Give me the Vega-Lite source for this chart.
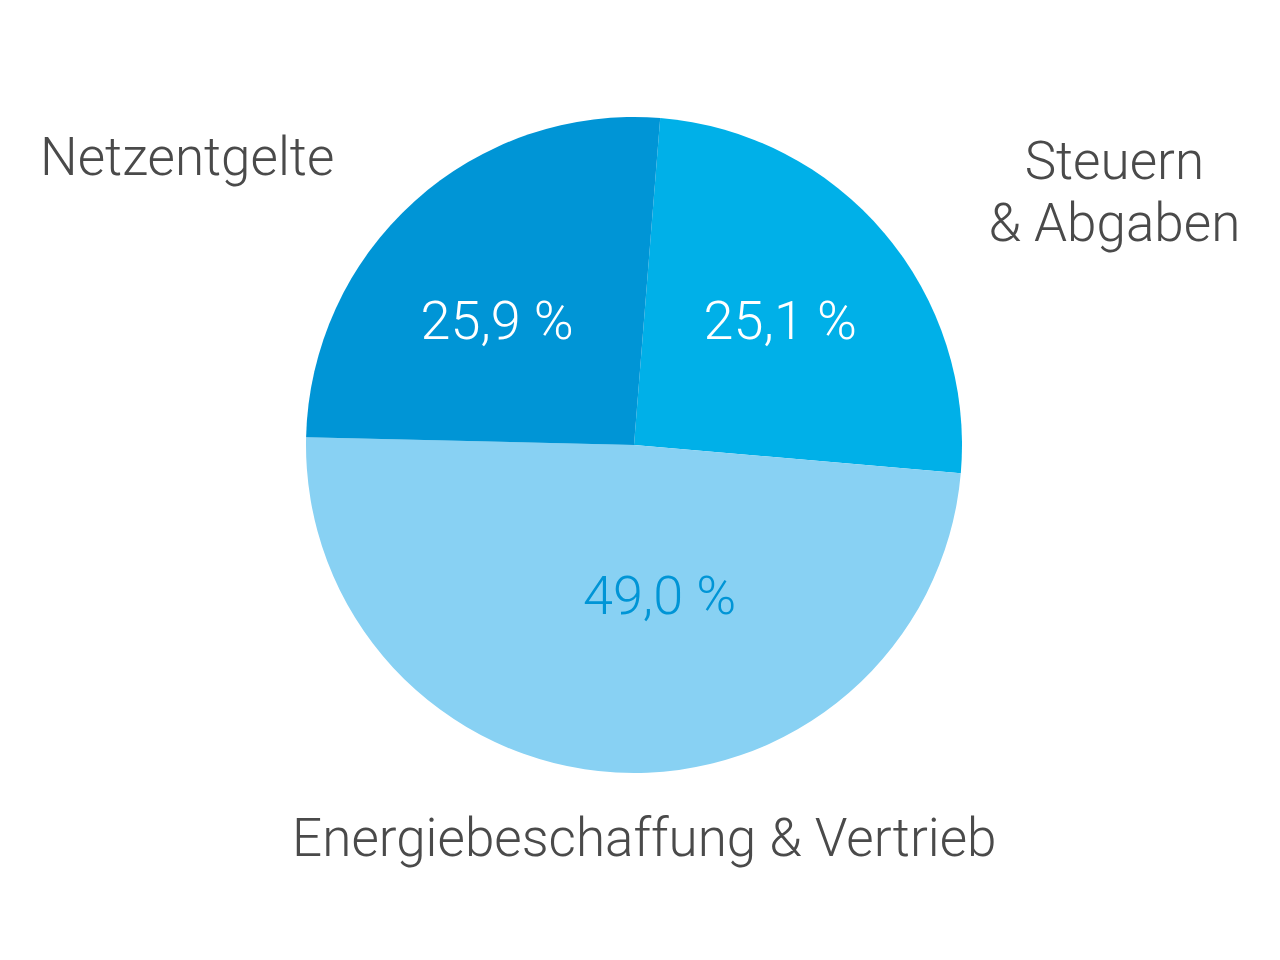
{
  "$schema": "https://vega.github.io/schema/vega-lite/v6.json",
  "width": 1268,
  "height": 890,
  "autosize": "none",
  "padding": 0,
  "background": "white",
  "config": {"view": {"stroke": null}},
  "data": {
    "values": [
      {"cat": "Steuern & Abgaben", "name": "Steuern\n& Abgaben", "value": 25.1, "pct": "25,1 %", "order": 1},
      {"cat": "Energiebeschaffung & Vertrieb", "name": "Energiebeschaffung & Vertrieb", "value": 49.0, "pct": "49,0 %", "order": 2},
      {"cat": "Netzentgelte", "name": "Netzentgelte", "value": 25.9, "pct": "25,9 %", "order": 3}
    ]
  },
  "encoding": {
    "theta": {"field": "value", "type": "quantitative", "stack": true, "scale": {"range": [0.08, 6.3632]}},
    "order": {"field": "order", "type": "quantitative"}
  },
  "layer": [
    {
      "mark": {"type": "arc", "outerRadius": 328},
      "encoding": {
        "color": {
          "field": "cat", "type": "nominal", "legend": null,
          "scale": {
            "domain": ["Steuern & Abgaben", "Energiebeschaffung & Vertrieb", "Netzentgelte"],
            "range": ["#00B0E8", "#88D1F3", "#0095D6"]
          }
        }
      }
    },
    {
      "mark": {"type": "text", "radius": 185, "dx": -13, "dy": 15, "font": "Roboto", "fontWeight": 300, "fontSize": 54, "fill": "#ffffff", "align": "center", "baseline": "middle"},
      "encoding": {"text": {"condition": {"test": "datum.cat === 'Netzentgelte'", "field": "pct"}, "value": ""}}
    },
    {
      "mark": {"type": "text", "radius": 189, "dx": 2, "dy": 0, "font": "Roboto", "fontWeight": 300, "fontSize": 54, "fill": "#ffffff", "align": "center", "baseline": "middle"},
      "encoding": {"text": {"condition": {"test": "datum.cat === 'Steuern & Abgaben'", "field": "pct"}, "value": ""}}
    },
    {
      "mark": {"type": "text", "radius": 153, "dx": 34, "dy": 0, "font": "Roboto", "fontWeight": 300, "fontSize": 54, "fill": "#0095D6", "align": "center", "baseline": "middle"},
      "encoding": {"text": {"condition": {"test": "datum.cat === 'Energiebeschaffung & Vertrieb'", "field": "pct"}, "value": ""}}
    },
    {
      "mark": {"type": "text", "radius": 400, "dx": -179, "dy": 11, "font": "Roboto", "fontWeight": 300, "fontSize": 53, "fill": "#4a4a4a", "align": "center", "baseline": "middle"},
      "encoding": {"text": {"condition": {"test": "datum.cat === 'Netzentgelte'", "field": "name"}, "value": ""}}
    },
    {
      "mark": {"type": "text", "radius": 400, "dx": 175, "dy": -24, "font": "Roboto", "fontWeight": 300, "fontSize": 53, "lineBreak": "\n", "lineHeight": 62, "fill": "#4a4a4a", "align": "center", "baseline": "middle"},
      "encoding": {"text": {"condition": {"test": "datum.cat === 'Steuern & Abgaben'", "field": "name"}, "value": ""}}
    },
    {
      "mark": {"type": "text", "radius": 396, "dx": 32, "dy": 0, "font": "Roboto", "fontWeight": 300, "fontSize": 53, "fill": "#4a4a4a", "align": "center", "baseline": "middle"},
      "encoding": {"text": {"condition": {"test": "datum.cat === 'Energiebeschaffung & Vertrieb'", "field": "name"}, "value": ""}}
    }
  ]
}
